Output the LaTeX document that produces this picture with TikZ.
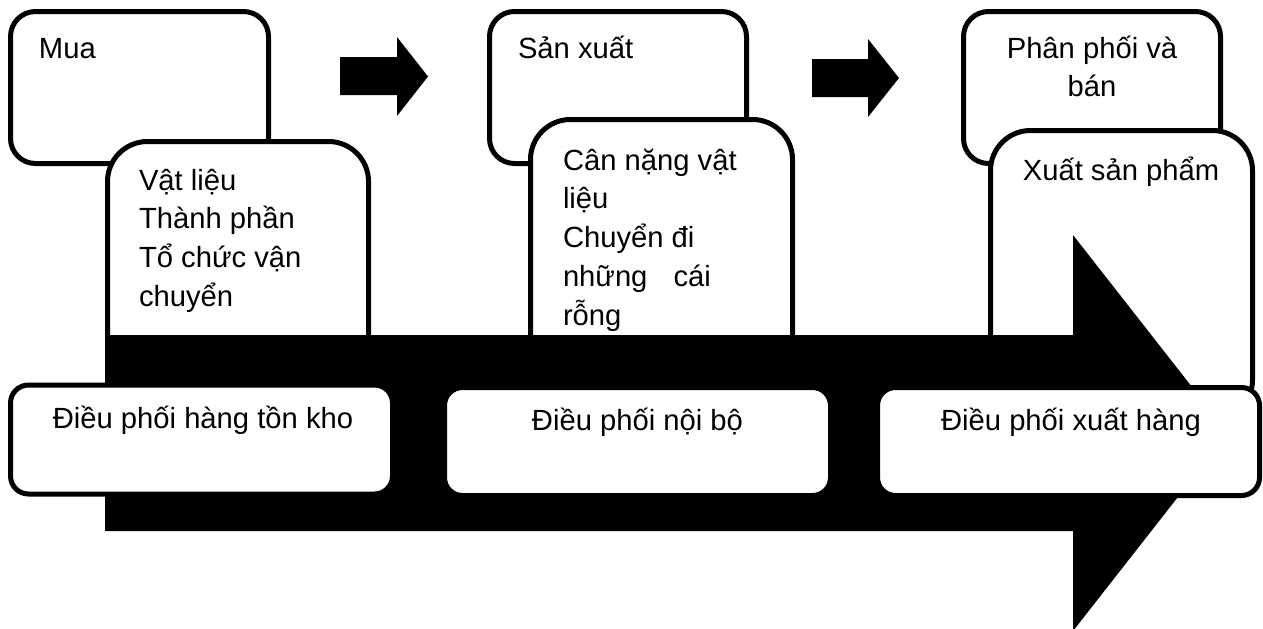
\documentclass[tikz,border=0pt]{standalone}
\usepackage{fontspec}
\setmainfont{Liberation Sans}
\usetikzlibrary{fit}
\tikzset{
  panel/.style={draw=black, fill=white, line width=2.5pt, inner sep=0pt, outer sep=0pt},
  toppanel/.style={panel, rounded corners=12.5pt},
  midpanel/.style={panel, rounded corners=20pt},
  lowpanel/.style={panel, rounded corners=9pt},
  txt/.style={inner sep=0pt, outer sep=0pt, font=\fontsize{14.6}{19.4}\selectfont},
  blockarrow/.style={fill=black, draw=none},
}
\begin{document}
\begin{tikzpicture}[x=0.5pt, y=-0.5pt]
\useasboundingbox (0,0) rectangle (1263,628);

% stage boxes (top row)
\node[toppanel, fit={(10.5,11.5) (268.5,163.5)}] (buy) {};
\node[toppanel, fit={(489.5,11.5) (746.5,163.5)}] (make) {};
\node[toppanel, fit={(963.5,11.5) (1220.5,163.5)}] (sell) {};
\node[txt, anchor=base west] (buyT) at (39,58) {Mua};
\node[txt, anchor=base west] (makeT) at (518,58) {Sản xuất};
% multi-line labels are placed by the baseline of their last line
\node[txt, anchor=base, align=center] (sellT) at (1092,96.8) {Phân phối và\\bán};

% activity boxes (middle row)
\node[midpanel, fit={(107.5,141.5) (368.5,420)}] (mat) {};
\node[midpanel, fit={(530.5,119.5) (792.5,420)}] (weigh) {};
\node[midpanel, fit={(990.5,130.5) (1252.5,420)}] (ship) {};
\node[txt, anchor=base west, align=left] (matT) at (139,306.4)
  {Vật liệu\\Thành phần\\Tổ chức vận\\chuyển};
\node[txt, anchor=base west, align=left] (weighT) at (563,325.2)
  {Cân nặng vật\\liệu\\Chuyển đi\\những\hspace{9pt} cái\\rỗng};
\node[txt, anchor=base] (shipT) at (1121,180) {Xuất sản phẩm};

% small arrows between stages
\fill[blockarrow] (340,57) -- (397,57) -- (397,37) -- (428,76.5)
  -- (397,116) -- (397,95) -- (340,95) -- cycle;
\fill[blockarrow] (812,59) -- (868,59) -- (868,39) -- (899,78)
  -- (868,117) -- (868,97) -- (812,97) -- cycle;

% main flow arrow
\fill[blockarrow] (105,335) -- (1073,335) -- (1073,235) -- (1228,433)
  -- (1073,631) -- (1073,531) -- (105,531) -- cycle;

% coordination boxes (bottom row)
\node[lowpanel, fit={(10.5,385) (392.5,494)}] (inv) {};
\node[lowpanel, fit={(444.5,387.5) (830.5,495.5)}] (int) {};
\node[lowpanel, fit={(877.5,387.5) (1259.5,495.5)}] (out) {};
\node[txt, anchor=base] (invT) at (203,428) {Điều phối hàng tồn kho};
\node[txt, anchor=base] (intT) at (637.5,430) {Điều phối nội bộ};
\node[txt, anchor=base] (outT) at (1071,430) {Điều phối xuất hàng};
\end{tikzpicture}
\end{document}
